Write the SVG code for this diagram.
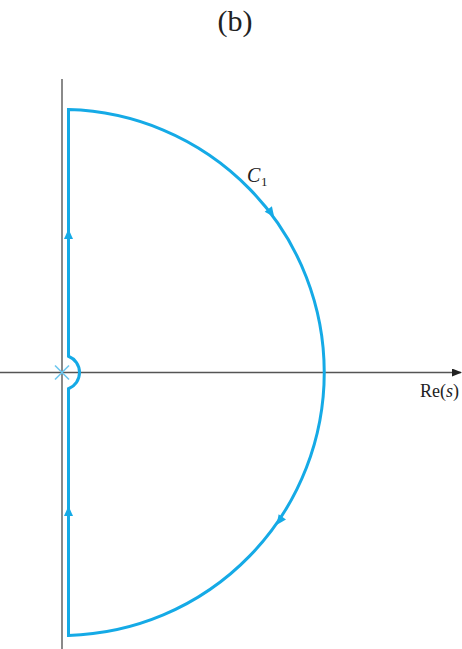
<svg xmlns="http://www.w3.org/2000/svg" width="462" height="649" viewBox="0 0 462 649">
<style>
.axis{stroke:#555;stroke-width:1.3;fill:none}
.vaxis{stroke:#8a8a8a;stroke-width:2;fill:none}
.contour{stroke:#15aae6;stroke-width:3;fill:none;stroke-linejoin:miter}
.head{fill:#15aae6}
.cross{stroke:#6cc6ee;stroke-width:1.6}
.serif{font-family:"Liberation Serif","Times New Roman",serif;fill:#222}
</style>
<defs>
<marker id="ax" markerWidth="10" markerHeight="8" refX="9" refY="4" orient="auto" markerUnits="userSpaceOnUse">
<path d="M0,0 L10,4 L0,8 Z" fill="#222"/>
</marker>
<polygon id="ah" points="0,0 -10,-4.5 -10,4.5"/>
</defs>
<rect width="462" height="649" fill="#fff"/>
<g id="title"><text class="serif" x="235" y="31" font-size="30" text-anchor="middle">(b)</text></g>
<g id="axes">
<line class="vaxis" x1="62" y1="79" x2="62" y2="649"/>
<line class="axis" x1="0" y1="372.5" x2="461" y2="372.5" marker-end="url(#ax)"/>
<text class="serif" x="420" y="397" font-size="18">Re(<tspan font-style="italic">s</tspan>)</text>
</g>
<g id="pole">
<line class="cross" x1="55" y1="365.5" x2="69" y2="379.5"/>
<line class="cross" x1="55" y1="379.5" x2="69" y2="365.5"/>
</g>
<g id="contour">
<path class="contour" d="M68.5,109.6 A263,263 0 0 1 68.5,635.4 L68.5,388.75 A17.5,17.5 0 0 0 68.5,356.25 Z"/>
</g>
<g id="arrows" class="head">
<use href="#ah" transform="translate(68.5,229) rotate(-90)"/>
<use href="#ah" transform="translate(68.5,506) rotate(-90)"/>
<use href="#ah" transform="translate(274.2,217.1) rotate(53.8)"/>
<use href="#ah" transform="translate(276.5,525) rotate(125.6)"/>
</g>
<g id="label">
<text class="serif" x="247" y="182" font-size="20" font-style="italic">C</text>
<text class="serif" x="261" y="186" font-size="13">1</text>
</g>
</svg>
